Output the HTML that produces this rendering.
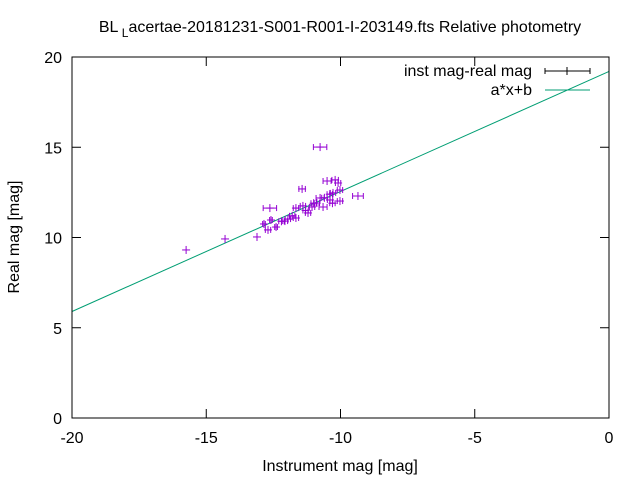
<!DOCTYPE html>
<html><head><meta charset="utf-8"><style>body{margin:0;background:#fff}svg{display:block;font-family:"Liberation Sans",sans-serif}</style></head>
<body>
<svg id="chart" width="640" height="480">
<rect width="640" height="480" fill="#fff"/>
<text x="340" y="32" font-size="16" text-anchor="middle">BL<tspan dy="5" font-size="12"> L</tspan><tspan dy="-5">acertae-20181231-S001-R001-I-203149.fts Relative photometry</tspan></text>
<g id="axes"></g>
<g id="series"></g>
<rect x="72" y="57" width="537" height="361" fill="none" stroke="#000"/>
<text x="340" y="471" font-size="16" text-anchor="middle">Instrument mag [mag]</text>
<text transform="translate(19,237) rotate(-90)" font-size="16" text-anchor="middle">Real mag [mag]</text>
<g>
<text x="532" y="76" font-size="16" text-anchor="end">inst mag-real mag</text>
<line x1="545" y1="71" x2="590" y2="71" stroke="#000"/>
<line x1="545" y1="68" x2="545" y2="74" stroke="#000"/><line x1="590" y1="68" x2="590" y2="74" stroke="#000"/><line x1="567" y1="67" x2="567" y2="75" stroke="#000"/>
<text x="532" y="95" font-size="16" text-anchor="end">a*x+b</text>
<line x1="545" y1="90" x2="590" y2="90" stroke="#009e73"/>
</g>
</svg>
<script>
const xTicks=[-20,-15,-10,-5,0];
const yTicks=[0,5,10,15,20];
const instMag=[-15.75,-14.3,-13.11,-12.85,-12.63,-12.59,-12.7,-12.4,-12.07,-11.96,-11.66,-11.66,-11.43,-11.4,-11.21,-11.06,-10.88,-10.76,-10.65,-10.5,-10.39,-10.2,-10.09,-10.02,-10.02,-10.28,-9.35,-10.76,-11.8,-11.0,-10.6,-10.4,-10.3,-11.3,-12.2];
const realMag=[9.31,9.92,10.03,10.75,11.63,10.97,10.42,10.58,10.91,11.02,11.08,11.63,12.69,11.75,11.36,11.69,11.91,12.19,11.69,13.13,12.08,13.19,13.02,12.63,12.02,12.47,12.3,15.01,11.2,11.9,12.2,12.4,11.9,11.5,10.9];
const instErr=[0.02,0.02,0.02,0.05,0.25,0.05,0.1,0.05,0.1,0.1,0.1,0.1,0.12,0.1,0.1,0.1,0.1,0.15,0.15,0.15,0.1,0.12,0.1,0.1,0.1,0.1,0.2,0.25,0.1,0.1,0.1,0.1,0.1,0.1,0.1];
const fitA=0.665, fitB=19.2;
const X=v=>72+(v+20)*537/20, Y=v=>418-v*361/20;
const NS="http://www.w3.org/2000/svg";
const ax=document.getElementById('axes'), se=document.getElementById('series');
function mk(tag,attrs,parent){const e=document.createElementNS(NS,tag);for(const k in attrs)e.setAttribute(k,attrs[k]);parent.appendChild(e);return e;}
xTicks.forEach(t=>{
 const g=mk('g',{},ax);
 
 
 mk('line',{x1:X(t),x2:X(t),y1:418,y2:409,stroke:'#000'},g);
 mk('line',{x1:X(t),x2:X(t),y1:57,y2:66,stroke:'#000'},g);
 const tx=mk('text',{x:X(t),y:443,'font-size':16,'text-anchor':'middle'},g);tx.textContent=t;
});
yTicks.forEach(t=>{
 const g=mk('g',{},ax);
 
 
 mk('line',{x1:72,x2:81,y1:Y(t),y2:Y(t),stroke:'#000'},g);
 mk('line',{x1:609,x2:600,y1:Y(t),y2:Y(t),stroke:'#000'},g);
 const tx=mk('text',{x:62,y:Y(t)+6,'font-size':16,'text-anchor':'end'},g);tx.textContent=t;
});
const fl=mk('line',{x1:X(-20),y1:Y(fitA*-20+fitB),x2:X(0),y2:Y(fitB),stroke:'#009e73','stroke-width':1},se);


instMag.forEach((v,i)=>{
 const g=mk('g',{stroke:'#9400d3','stroke-width':1},se);
 
 
 const x=X(v),y=Y(realMag[i]),x0=X(v-instErr[i]),x1=X(v+instErr[i]);
 mk('line',{x1:x0,x2:x1,y1:y,y2:y},g);
 if(instErr[i]>0.04){
  mk('line',{x1:x0,x2:x0,y1:y-3,y2:y+3},g);
  mk('line',{x1:x1,x2:x1,y1:y-3,y2:y+3},g);
 }
 mk('line',{x1:x,x2:x,y1:y-4,y2:y+4},g);
 mk('line',{x1:x-4,x2:x+4,y1:y,y2:y},g);
});
</script>
</body></html>
